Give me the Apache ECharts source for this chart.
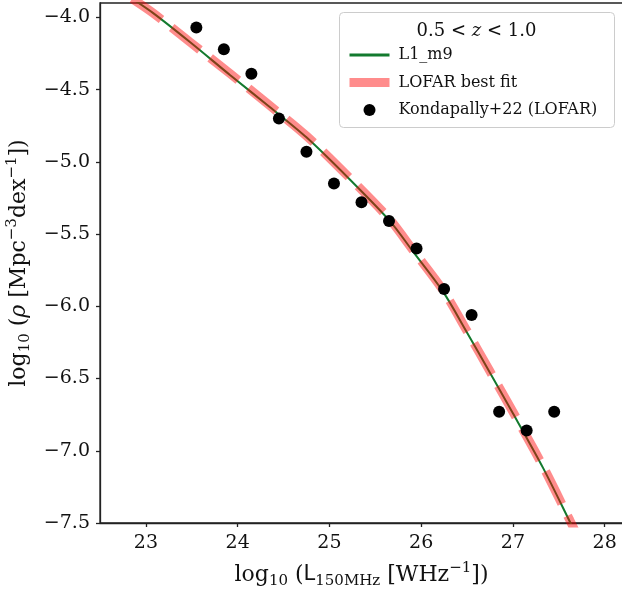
<!DOCTYPE html>
<html><head><meta charset="utf-8">
<script src="https://cdn.jsdelivr.net/npm/echarts@6/dist/echarts.min.js"></script>
<style>html,body{margin:0;padding:0;background:#fff}#c{width:622px;height:592px}</style>
</head><body><div id="c"></div>
<script>
// Kondapally+22 (LOFAR) observed points
const obsX = [23.55, 23.85, 24.15, 24.45, 24.75, 25.05, 25.35, 25.65, 25.95, 26.25, 26.55, 26.85, 27.15, 27.45];
const obsY = [-4.07, -4.22, -4.39, -4.70, -4.93, -5.15, -5.28, -5.41, -5.60, -5.88, -6.06, -6.73, -6.86, -6.73];
// L1_m9 model curve
const simX = [22.85, 23.08, 23.48, 23.92, 24.35, 24.75, 25.22, 25.66, 25.91, 26.24, 26.49, 26.75, 27.00, 27.33, 27.62, 27.72];
const simY = [-3.87, -3.97, -4.17, -4.40, -4.62, -4.83, -5.12, -5.41, -5.62, -5.90, -6.17, -6.46, -6.74, -7.12, -7.49, -7.62];
// LOFAR best fit curve
const fitX = [22.85, 23.08, 23.48, 23.92, 24.35, 24.75, 25.22, 25.66, 25.91, 26.24, 26.49, 26.75, 27.00, 27.33, 27.62, 27.72];
const fitY = [-3.87, -3.97, -4.17, -4.39, -4.61, -4.82, -5.11, -5.40, -5.61, -5.89, -6.16, -6.45, -6.73, -7.11, -7.48, -7.61];
// ticks
const xTicks = [23, 24, 25, 26, 27, 28];
const yTicks = [-7.5, -7.0, -6.5, -6.0, -5.5, -5.0, -4.5, -4.0];
const names = ['L1_m9', 'LOFAR best fit', 'Kondapally+22 (LOFAR)'];

const serif = 'DejaVu Serif';
const zip = (a, b) => a.map((v, i) => [v, b[i]]);
const fmt = v => (v < 0 ? '\u2212' : '') + Math.abs(v).toFixed(1);
const titleRich = {
  a: {fontFamily: serif, fontSize: 22, lineHeight: 28, color: '#111'},
  i: {fontFamily: serif, fontSize: 22, lineHeight: 28, fontStyle: 'italic', color: '#111'},
  sf: {fontFamily: 'DejaVu Sans', fontSize: 21, lineHeight: 28, color: '#111'},
  s: {fontFamily: serif, fontSize: 15, lineHeight: 15, verticalAlign: 'bottom', color: '#111'},
  p: {fontFamily: serif, fontSize: 15, lineHeight: 15, verticalAlign: 'top', color: '#111'}
};
const axisCommon = {
  axisLine: {show: true, lineStyle: {color: '#222', width: 1.3}},
  splitLine: {show: false}
};

const chart = echarts.init(document.getElementById('c'));
chart.setOption({
  animation: false,
  grid: {left: 100, right: -1, top: 3, bottom: 69, show: true, borderColor: '#222', borderWidth: 1.3,
         containLabel: false, outerBoundsMode: 'none'},
  xAxis: Object.assign({
    type: 'value', min: 22.5, max: 28.2,
    axisTick: {show: true, inside: false, length: 4, customValues: xTicks, lineStyle: {color: '#222', width: 1.3}},
    axisLabel: {customValues: xTicks, fontFamily: serif, fontSize: 19, color: '#111', margin: 11, formatter: v => String(v)},
    name: '{a|log}{s|10}{a| (}{sf|L}{s|150MHz}{a| [WHz}{p|\u22121}{a|])}',
    nameLocation: 'middle', nameGap: 38,
    nameTextStyle: {rich: titleRich}
  }, axisCommon),
  yAxis: Object.assign({
    type: 'value', min: -7.5, max: -3.9,
    axisTick: {show: true, inside: false, length: 4, customValues: yTicks, lineStyle: {color: '#222', width: 1.3}},
    axisLabel: {customValues: yTicks, fontFamily: serif, fontSize: 19, color: '#111', margin: 10, formatter: fmt},
    name: '{a|log}{s|10}{a| (}{i|\u03c1}{a| [Mpc}{p|\u22123}{a|dex}{p|\u22121}{a|])}',
    nameLocation: 'middle', nameGap: 61, nameRotate: 90,
    nameTextStyle: {rich: titleRich}
  }, axisCommon),
  legend: {
    orient: 'vertical', left: 340, top: 42, itemWidth: 40, itemHeight: 12, itemGap: 11.5,
    textStyle: {fontFamily: serif, fontSize: 16, color: '#111', padding: [0, 0, 0, 4]},
    data: [
      {name: names[0], itemStyle: {opacity: 0}, lineStyle: {width: 3}},
      {name: names[1], itemStyle: {opacity: 0}, lineStyle: {type: 'solid', width: 9, cap: 'butt'}},
      {name: names[2], itemStyle: {opacity: 1}}
    ],
    z: 5
  },
  graphic: [
    {type: 'rect', z: 4, shape: {x: 339.5, y: 12.5, width: 275, height: 115, r: 4},
     style: {fill: 'rgba(255,255,255,0.85)', stroke: '#cccccc', lineWidth: 1}},
    {type: 'text', z: 5, x: 476.5, y: 31,
     style: {text: '{a|0.5 < }{i|z}{a| < 1.0}', align: 'center', verticalAlign: 'middle',
       rich: {a: {fontFamily: serif, fontSize: 18, fill: '#111'}, i: {fontFamily: serif, fontSize: 18, fontStyle: 'italic', fill: '#111'}}}}
  ],
  series: [
    {name: names[0], type: 'line', data: zip(simX, simY), showSymbol: false, symbol: 'none', smooth: 0.3,
     clip: true, itemStyle: {color: '#137a2e'}, lineStyle: {color: '#137a2e', width: 2}, z: 2},
    {name: names[2], type: 'scatter', data: zip(obsX, obsY), symbol: 'circle', symbolSize: 12,
     itemStyle: {color: '#000', opacity: 1}, z: 2},
    {name: names[1], type: 'line', data: zip(fitX, fitY), showSymbol: false, symbol: 'none', smooth: 0.3,
     clip: true, itemStyle: {color: 'rgba(255,0,0,0.45)'},
     lineStyle: {color: 'rgba(255,0,0,0.45)', width: 9, type: [36, 13], cap: 'butt'}, z: 2}
  ]
});
</script>
</body></html>
